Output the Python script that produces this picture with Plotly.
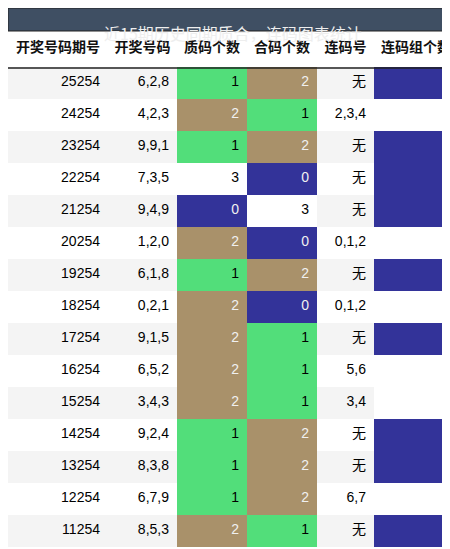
import plotly.graph_objects as go

periods = ['25254', '24254', '23254', '22254', '21254', '20254', '19254', '18254',
           '17254', '16254', '15254', '14254', '13254', '12254', '11254']
draws = ['6,2,8', '4,2,3', '9,9,1', '7,3,5', '9,4,9', '1,2,0', '6,1,8', '0,2,1',
         '9,1,5', '6,5,2', '3,4,3', '9,2,4', '8,3,8', '6,7,9', '8,5,3']
prime_cnt = [1, 2, 1, 3, 0, 2, 1, 2, 2, 2, 2, 1, 1, 1, 2]
comp_cnt = [2, 1, 2, 0, 3, 0, 2, 0, 1, 1, 1, 2, 2, 2, 1]
consec = ['无', '2,3,4', '无', '无', '无', '0,1,2', '无', '0,1,2', '无', '5,6', '3,4', '无', '无', '6,7', '无']
consec_cnt = [0, 1, 0, 0, 0, 1, 0, 1, 0, 1, 1, 0, 0, 1, 0]
headers = ['开奖号码期号', '开奖号码', '质码个数', '合码个数', '连码号', '连码组个数']
title = '近15期历史同期质合，连码图表统计'

GREEN, TAN, NAVY, WHITE, GRAY = '#52de7a', '#a9916a', '#333399', '#ffffff', '#f4f4f4'
stripe = [GRAY if i % 2 == 0 else WHITE for i in range(len(periods))]

def cnt_fill(vals):
    m = {1: GREEN, 2: TAN, 0: NAVY, 3: WHITE}
    return [m[v] for v in vals]

def cnt_font(vals):
    return ['#f0f0f0' if v in (0, 2) else '#000000' for v in vals]

last_fill = [NAVY if v == 0 else WHITE for v in consec_cnt]
last_font = ['#f0f0f0' if v == 0 else '#000000' for v in consec_cnt]

fills = [stripe, stripe, cnt_fill(prime_cnt), cnt_fill(comp_cnt), stripe, last_fill]
fonts = [['#000'] * 15, ['#000'] * 15, cnt_font(prime_cnt), cnt_font(comp_cnt), ['#000'] * 15, last_font]

FONT = 'Liberation Sans, Noto Sans CJK SC'
TOP = 526 / 549
fig = go.Figure(go.Table(
    columnwidth=[100, 69, 70, 70, 57, 84],
    domain=dict(x=[0, 1], y=[0, TOP]),
    header=dict(values=['<b>%s</b>' % h for h in headers], fill_color=WHITE,
                line=dict(width=0), align='center', height=36,
                font=dict(family=FONT, size=14, color='#111')),
    cells=dict(values=[periods, draws, prime_cnt, comp_cnt, consec, consec_cnt],
               fill_color=fills, line=dict(width=0), align='right', height=32,
               font=dict(family=FONT, size=14, color=fonts)),
))
fig.add_shape(type='rect', xref='paper', yref='paper', x0=0, x1=1, y0=TOP, y1=1,
              fillcolor='#3f4f63', line=dict(width=1, color='#222'))
fig.add_shape(type='line', xref='paper', yref='paper', x0=0, x1=1, y0=489 / 549, y1=489 / 549,
              line=dict(width=1.5, color='#222'))
fig.add_annotation(text=title, xref='paper', yref='paper', x=0.5, y=537.5 / 549,
                   showarrow=False, font=dict(family='Noto Sans CJK SC', size=16, color='#eeeeee'))
fig.update_layout(width=450, height=549, margin=dict(l=0, r=0, t=0, b=0),
                  paper_bgcolor='white')
fig.write_html('out.html')
